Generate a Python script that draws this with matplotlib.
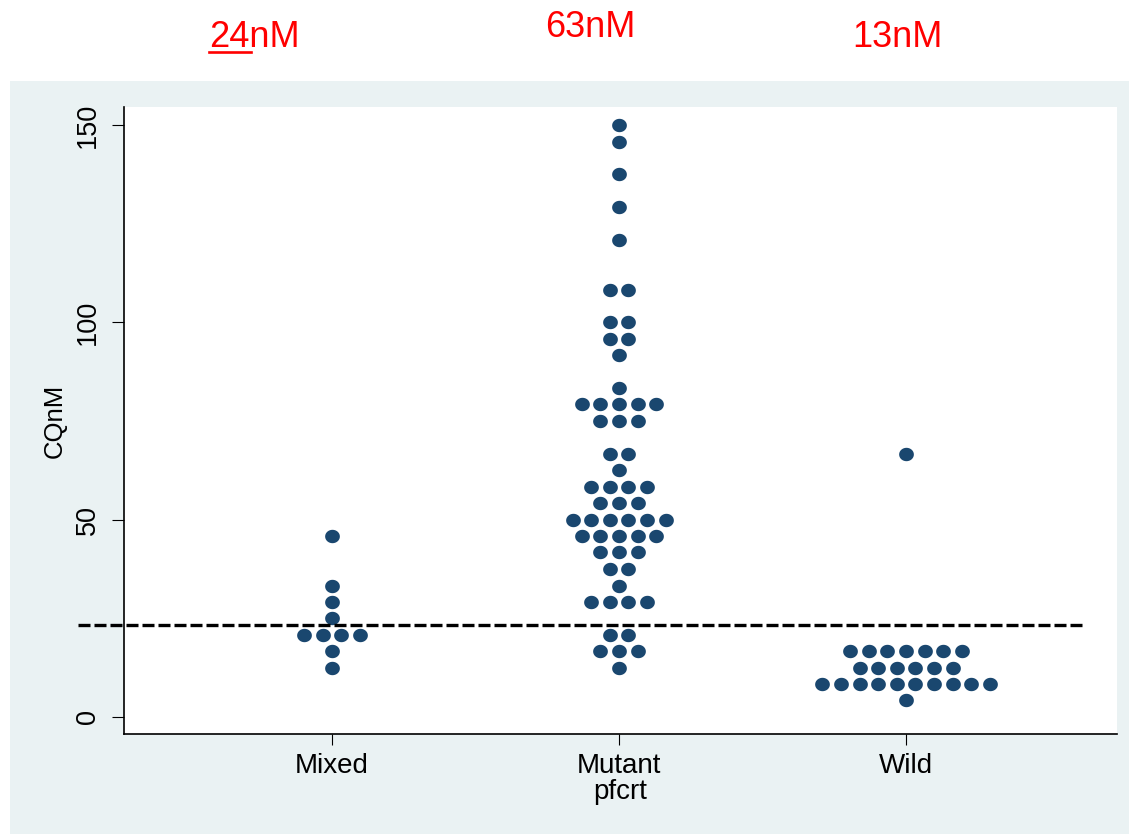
import numpy as np
import matplotlib
matplotlib.use("Agg")
import matplotlib.pyplot as plt
from matplotlib.patches import Rectangle
from matplotlib.lines import Line2D

plt.rcParams['font.family'] = ['Liberation Sans', 'DejaVu Sans']

categories = ["Mixed", "Mutant", "Wild"]

mixed_levels = [12.5, 16.7, 20.8, 25.0, 29.2, 33.3, 45.8]
mixed_counts = [1, 1, 4, 1, 1, 1, 1]

mutant_levels = [12.5, 16.7, 20.8, 29.2, 33.3, 37.5, 41.7, 45.8, 50.0, 54.2,
                 58.3, 62.5, 66.7, 75.0, 79.2, 83.3, 91.7, 95.8, 100.0, 108.3,
                 120.8, 129.2, 137.5, 145.8, 150.0]
mutant_counts = [1, 3, 2, 4, 1, 2, 3, 5, 6, 3,
                 4, 1, 2, 3, 5, 1, 1, 2, 2, 2,
                 1, 1, 1, 1, 1]

wild_levels = [4.2, 8.3, 12.5, 16.7, 66.7]
wild_counts = [1, 10, 6, 7, 1]

threshold = 23.3
yticks = [0, 50, 100, 150]
top_labels = ["24nM", "63nM", "13nM"]

W, H = 1129, 834
fig = plt.figure(figsize=(W / 100, H / 100), dpi=100)
fig.patch.set_facecolor("white")

# Stata-like background panel
bg = Rectangle((10 / W, 0), 1 - 10 / W, 1 - 80.7 / H,
               transform=fig.transFigure, facecolor="#EAF2F3",
               edgecolor="none", zorder=-5)
fig.add_artist(bg)

ax = fig.add_axes([124 / W, 1 - 734 / H, (1117 - 124) / W, (734 - 107) / H])
ax.set_zorder(2)
ax.set_facecolor("white")

t = np.linspace(0, 2 * np.pi, 60)
ell = list(zip(1.1 * np.cos(t), np.sin(t)))

spacing = 0.0648
groups = [(mixed_levels, mixed_counts), (mutant_levels, mutant_counts),
          (wild_levels, wild_counts)]
for gi, (levels, counts) in enumerate(groups):
    xs, ys = [], []
    for v, c in zip(levels, counts):
        offs = (np.arange(c) - (c - 1) / 2) * spacing
        xs.extend(gi + 1 + offs)
        ys.extend([v] * c)
    ax.plot(xs, ys, linestyle="none", marker=ell, markersize=10.6,
            color="#1A476F", markeredgewidth=0, zorder=3)

ax.set_xlim(0.275, 3.735)
ax.set_ylim(-4.31, 154.56)

# dashed threshold line (extends left past the axis)
ax.plot([-0.046, 0.966], [threshold, threshold], transform=ax.get_yaxis_transform(),
        color="black", linewidth=2.4, dashes=(3.6, 1.2), dash_capstyle="butt",
        clip_on=False, zorder=4)

for s in ["top", "right"]:
    ax.spines[s].set_visible(False)
for s in ["left", "bottom"]:
    ax.spines[s].set_linewidth(1.2)
    ax.spines[s].set_color("black")

ax.set_yticks(yticks)
ax.set_yticklabels([str(v) for v in yticks], rotation=90, va="center")
ax.set_xticks([1, 2, 3])
ax.set_xticklabels(categories)
ax.tick_params(axis="y", length=8.6, width=0.8, pad=8, labelsize=19.5)
ax.tick_params(axis="x", length=8, width=0.8, pad=6, labelsize=20)
ax.set_xlabel("pfcrt", fontsize=20, labelpad=0)
ax.set_ylabel("CQnM", fontsize=18.5, labelpad=6)

# red annotations
fig.text(209 / W, 1 - 46.7 / H, top_labels[0], color="red", fontsize=26,
         ha="left", va="baseline")
fig.text(545 / W, 1 - 37.3 / H, top_labels[1], color="red", fontsize=26,
         ha="left", va="baseline")
fig.text(852 / W, 1 - 47.3 / H, top_labels[2], color="red", fontsize=26,
         ha="left", va="baseline")
fig.add_artist(Line2D([209 / W, 250.5 / W], [1 - 52.2 / H, 1 - 52.2 / H],
                      transform=fig.transFigure, color="red", linewidth=1.9))

fig.savefig("out.png", dpi=100)
